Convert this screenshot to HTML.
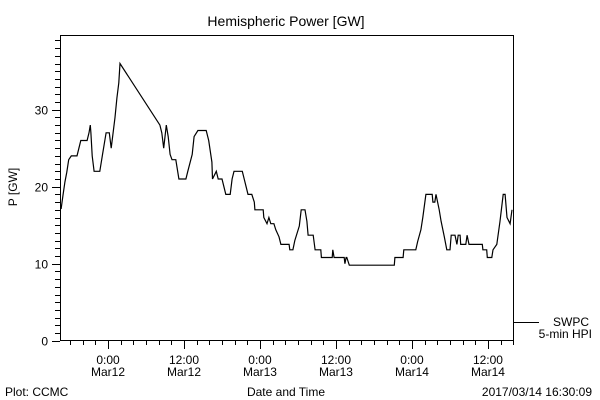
<!DOCTYPE html>
<html><head><meta charset="utf-8"><style>
body{margin:0;background:#fff}
svg{display:block;font-family:"Liberation Sans",sans-serif}
</style></head><body>
<svg id="chart" width="600" height="400" viewBox="0 0 600 400">
<rect width="600" height="400" fill="#fff"/>
<text x="286" y="26" font-size="14" text-anchor="middle">Hemispheric Power [GW]</text>
<rect x="60.5" y="35.5" width="453" height="305" fill="none" stroke="#000" stroke-width="1"/>
<g id="yticks"></g>
<g id="xticks"></g>
<text transform="translate(17,187) rotate(-90)" font-size="12" text-anchor="middle">P [GW]</text>
<text x="286" y="396" font-size="12" text-anchor="middle">Date and Time</text>
<text x="5" y="396" font-size="12">Plot: CCMC</text>
<text x="592" y="396" font-size="12" text-anchor="end">2017/03/14 16:30:09</text>
<g>
<line x1="513" y1="322.5" x2="539" y2="322.5" stroke="#000"/>
<text x="589" y="326" font-size="12" text-anchor="end">SWPC</text>
<text x="592" y="338" font-size="12" text-anchor="end">5-min HPI</text>
</g>
<path id="series" fill="none" stroke="#000" stroke-width="1.2" stroke-linejoin="miter"/>
</svg>
<script>
const hours = [-7.4,-7.1,-6.8,-6.5,-6.2,-5.8,-4.9,-4.6,-4.3,-3.3,-3.0,-2.8,-2.7,-2.5,-2.2,-1.3,-0.9,-0.6,-0.3,0.2,0.5,0.8,1.1,1.4,1.7,1.9,8.2,8.5,8.8,9.2,9.5,9.8,10.1,10.7,11.2,12.3,12.6,13.3,13.6,14.2,15.5,15.9,16.4,16.5,17.1,17.4,18.0,18.3,18.6,19.3,19.6,19.9,21.2,21.5,21.8,22.1,22.7,23.1,23.2,24.5,24.6,25.1,25.4,25.7,26.2,26.5,27.0,27.3,28.6,28.7,29.2,29.5,30.2,30.5,31.1,31.4,31.6,32.4,32.7,33.6,33.7,35.4,35.5,35.7,37.3,37.4,37.6,37.7,38.1,45.2,45.3,46.6,46.7,48.6,48.9,49.4,49.7,50.2,51.2,51.3,51.6,51.8,52.3,52.6,53.1,53.5,54.0,54.2,54.8,55.1,55.3,55.6,55.7,56.5,56.7,57.0,59.1,59.2,59.8,59.9,60.6,60.8,61.4,61.9,62.4,62.7,63.0,63.5,63.8];
const power = [17.1,18.9,20.6,21.9,23.5,24,24,25,26,26,27,28,27,24,22,22,24,25.5,27,27,25,27,29,31.5,33.5,36,28,27,25,28,26.5,24.2,23.5,23.5,21,21,22,24.2,26.5,27.3,27.3,26,23.2,21,22,21,21,20,19,19,21,22,22,21,20,19,19,18,17,17,16,15.2,16,15.2,15.2,14.4,13.5,12.5,12.5,11.8,11.8,13,14.9,17,17,15.5,13.7,13.7,11.8,11.8,10.8,10.8,11.8,10.8,10.8,10,10.8,10.8,9.8,9.8,10.8,10.8,11.8,11.8,12.9,14.4,16,19,19,18,18,19,17,15.5,13.5,11.8,11.8,13.7,13.7,12.5,13.7,13.7,12.5,12.5,13.7,12.5,12.5,11.8,11.8,10.8,10.8,11.8,12.5,15.5,19,19,16,15.2,17];
const yTickLabels = ["0","10","20","30"];
const xTickLabels = [["0:00","Mar12"],["12:00","Mar12"],["0:00","Mar13"],["12:00","Mar13"],["0:00","Mar14"],["12:00","Mar14"]];

const X0=108, PXH=6.333, Y0=340.7, PXV=7.7;
const xs = h => X0 + h*PXH;
const ys = v => Y0 - v*PXV;
const NS="http://www.w3.org/2000/svg";
function mk(tag, attrs, parent){const e=document.createElementNS(NS,tag);for(const k in attrs)e.setAttribute(k,attrs[k]);parent.appendChild(e);return e;}

const yg=document.getElementById('yticks');
for(let v=0; v<=39; v++){
  const y=Math.round(ys(v))+0.5, major=v%10===0;
  const t=mk('line',{x1:major?52:55,x2:60,y1:y,y2:y,stroke:'#000'},yg);
  
  
}
yTickLabels.forEach((lab,i)=>{
  const t=mk('text',{x:48,y:ys(+lab)+5,'font-size':12,'text-anchor':'end'},yg);
  t.textContent=lab;
  
  
});
const xg=document.getElementById('xticks');
for(let h=-6; h<=64; h+=2){
  const x=Math.round(xs(h))+0.5, major=h%12===0;
  const t=mk('line',{x1:x,x2:x,y1:341,y2:major?349:345,stroke:'#000'},xg);
  
  
}
xTickLabels.forEach((lab,i)=>{
  const x=xs(i*12);
  const t1=mk('text',{x:x,y:364,'font-size':12,'text-anchor':'middle'},xg);
  t1.textContent=lab[0];
  
  
  const t2=mk('text',{x:x,y:376,'font-size':12,'text-anchor':'middle'},xg);
  t2.textContent=lab[1];
  
  
});
document.getElementById('series').setAttribute('d',
  hours.map((h,i)=>(i?'L':'M')+xs(h).toFixed(1)+','+ys(power[i]).toFixed(1)).join(''));
</script>
</body></html>
